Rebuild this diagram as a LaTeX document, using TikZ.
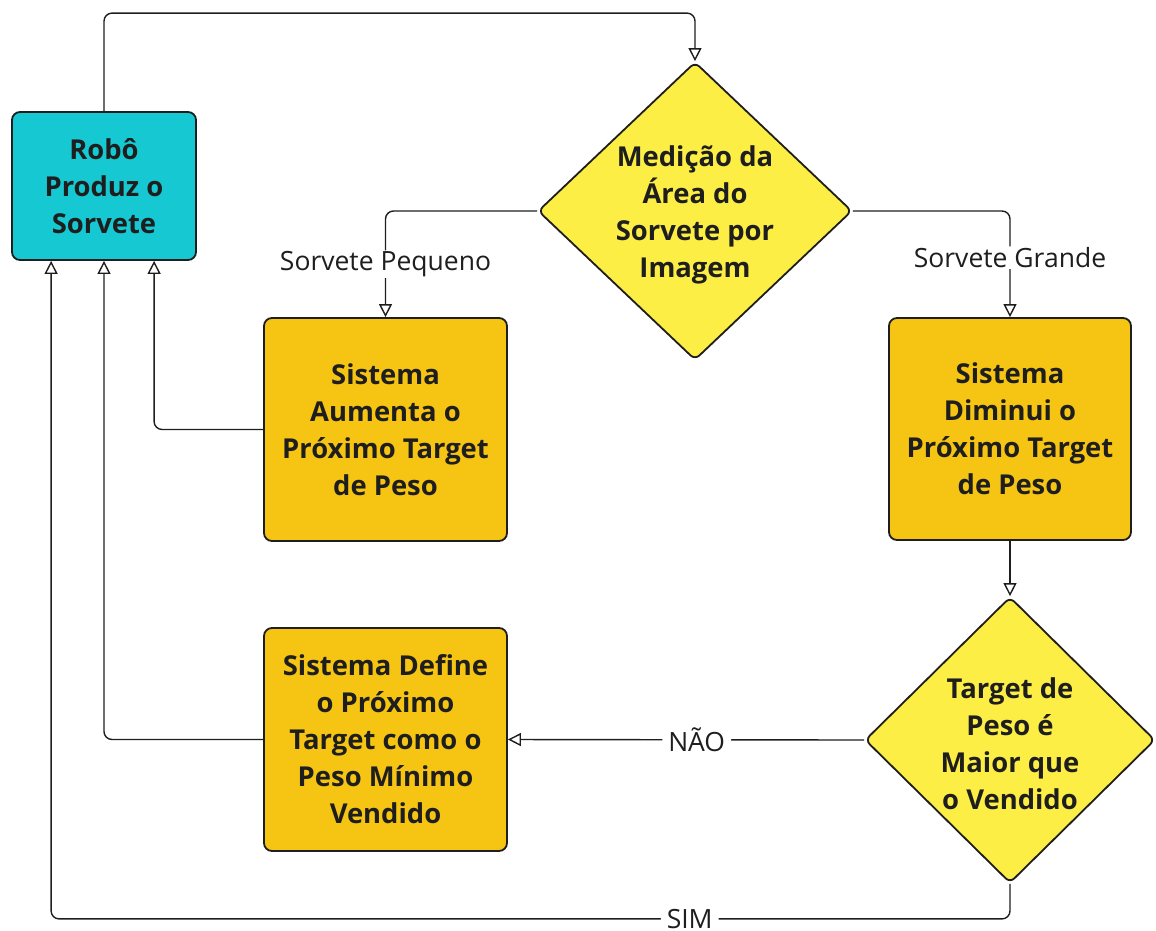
\documentclass[tikz,border=0pt]{standalone}
\usepackage{fontspec}
\setmainfont{Open Sans}
\usetikzlibrary{arrows.meta,shapes.geometric,calc}
\definecolor{teal1}{HTML}{16C8D2}
\definecolor{gold1}{HTML}{F6C413}
\definecolor{yel1}{HTML}{FCEE45}
\definecolor{ink}{HTML}{1E1E1E}
\begin{document}
\begin{tikzpicture}[x=1pt,y=-1pt,
  box/.style={draw=ink, line width=1.8pt, rounded corners=8pt, inner sep=0pt, align=center,
    font=\fontsize{27.4}{37}\selectfont\bfseries, text=ink},
  dia/.style={diamond, draw=ink, line width=1.8pt, rounded corners=6pt, fill=yel1, inner sep=0pt},
  dtext/.style={align=center, font=\fontsize{27.4}{37}\selectfont\bfseries, text=ink, inner sep=0pt},
  lbl/.style={font=\fontsize{26.5}{30}\selectfont, text=ink, fill=white, inner xsep=6pt, inner ysep=1pt},
  conn/.style={draw=ink, line width=1.4pt, rounded corners=8pt,
    -{Triangle[length=13pt,width=13pt,fill=white,line width=1.4pt]}}
]
\useasboundingbox (0,0) rectangle (1156,930);

\node[box, fill=teal1, minimum width=184pt, minimum height=148pt] (robot) at (104,186) {Robô\\Produz o\\Sorvete};
\node[box, fill=gold1, minimum width=243pt, minimum height=223pt] (aum) at (385.5,429.5) {Sistema\\Aumenta o\\Próximo Target\\de Peso};
\node[box, fill=gold1, minimum width=242pt, minimum height=222pt] (dim) at (1010,429) {Sistema\\Diminui o\\Próximo Target\\de Peso};
\node[box, fill=gold1, minimum width=243pt, minimum height=223pt] (def) at (385.5,739.5) {Sistema Define\\o Próximo\\Target como o\\Peso Mínimo\\Vendido};

\node[dia, minimum width=314pt, minimum height=298pt] (d1) at (695,211) {};
\node[dtext] (d1t) at ($(d1.center)+(0,4)$) {Medição da\\Área do\\Sorvete por\\Imagem};
\node[dia, minimum width=290pt, minimum height=286pt] (d2) at (1010,740) {};
\node[dtext] (d2t) at ($(d2.center)+(0,4)$) {Target de\\Peso é\\Maior que\\o Vendido};

\draw[conn] (robot.north) -- ++(0,-98) -| (d1.north);
\draw[conn] (d1.west) -| node[lbl, pos=0.75] {Sorvete Pequeno} (aum.north);
\draw[conn] (d1.east) -| node[lbl, pos=0.72] {Sorvete Grande} (dim.north);
\draw[conn] (dim.south) -- (d2.north);
\draw[conn] (d2.west) -- node[lbl, pos=0.47] {NÃO} (def.east);
\draw[conn] (d2.south) -- ++(0,35) -| node[lbl, pos=0.167] {SIM} ($(robot.south west)+(40,0)$);
\draw[conn] (aum.west) -| ($(robot.south west)+(143,0)$);
\draw[conn] (def.west) -| (robot.south);
\end{tikzpicture}
\end{document}
